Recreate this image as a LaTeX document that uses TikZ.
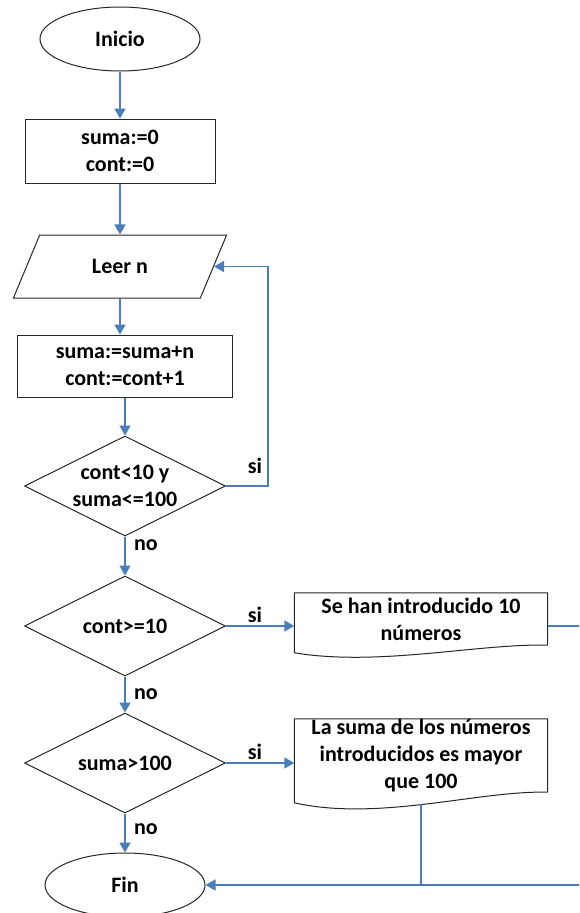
\documentclass[tikz,border=0pt]{standalone}
\usepackage{fontspec}
\setmainfont{Carlito}
\usetikzlibrary{shapes.geometric,arrows.meta}
\definecolor{azul}{RGB}{74,126,187}
\begin{document}
\begin{tikzpicture}[x=1pt,y=-1pt,
  font=\fontsize{22}{27}\selectfont\bfseries,
  borde/.style={draw=black!85, line width=1pt},
  terminal/.style={ellipse, borde, minimum width=160, minimum height=64, inner sep=0pt},
  caja/.style={rectangle, borde, align=center, inner sep=0pt},
  decision/.style={diamond, borde, aspect=2, align=center, inner sep=0pt, minimum width=201, minimum height=100},
  conector/.style={draw=azul, line width=1.5pt},
  flecha/.style={conector, -{Triangle[width=11pt,length=10pt]}}]
\useasboundingbox (0,0) rectangle (579,913);
\clip (0,0) rectangle (579,913);
\node[terminal] (ini) at (120,39) {Inicio};
\node[caja, minimum width=190, minimum height=64] (caja1) at (120,151) {suma:=0\\cont:=0};
\node[trapezium, trapezium left angle=57.6, trapezium right angle=122.4, trapezium stretches=true,
  borde, minimum width=214, minimum height=63, inner sep=0pt] (leer) at (120,266.5) {Leer n};
\node[caja, minimum width=215, minimum height=62] (caja2) at (125,366) {suma:=suma+n\\cont:=cont+1};
\node[decision] (dec1) at (125,486) {cont<10 y\\suma<=100};
\node[decision] (dec2) at (125,626) {cont>=10};
\node[decision] (dec3) at (125,763) {suma>100};
\node[terminal] (fin) at (125,885) {Fin};
\node[align=center, minimum width=253, minimum height=52, inner sep=0pt] (msg1) at (421,619)
  {Se han introducido 10\\números};
\node[align=center, minimum width=253, minimum height=73, inner sep=0pt] (msg2) at (421,755.5)
  {La suma de los números\\introducidos es mayor\\que 100};
\draw[borde] (msg1.south east) -- (msg1.north east) -- (msg1.north west) -- ++(0,60)
  .. controls +(85,14) and +(-68,-2) .. (msg1.south east);
\draw[borde] (msg2.south east) -- (msg2.north east) -- (msg2.north west) -- ++(0,84)
  .. controls +(85,19) and +(-68,-2) .. (msg2.south east);
\coordinate (bajada) at (421,804);
\coordinate (fuera) at (600,626);
\draw[flecha] (ini) -- (caja1);
\draw[flecha] (caja1) -- (leer.north -| caja1);
\draw[flecha] (leer.south) -- (leer.south |- caja2.north);
\draw[flecha] (caja2) -- (dec1);
\draw[flecha] (dec1.east) -- ++(42,0) |- (leer.east);
\draw[flecha] (dec1) -- (dec2);
\draw[flecha] (dec2.east) -- (dec2.east -| msg1.west);
\draw[flecha] (dec2) -- (dec3);
\draw[flecha] (dec3.east) -- (dec3.east -| msg2.west);
\draw[flecha] (dec3) -- (fin);
\draw[flecha] (msg1.east |- dec2.east) -- (fuera) |- (fin.east);
\draw[conector] (bajada) -- (bajada |- fin.east);
\node (si1) at (255,466) {si};
\node (no1) at (146,545) {no};
\node (si2) at (255,615) {si};
\node (no2) at (146,694) {no};
\node (si3) at (255,752) {si};
\node (no3) at (146,829) {no};
\end{tikzpicture}
\end{document}
